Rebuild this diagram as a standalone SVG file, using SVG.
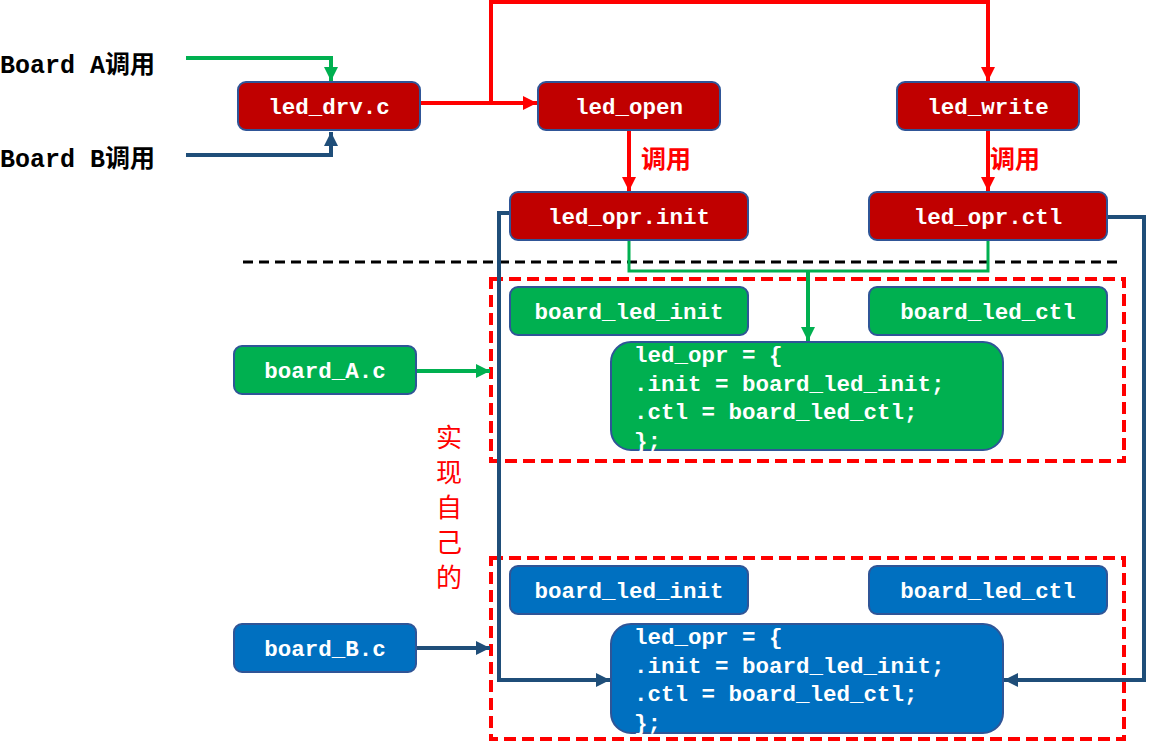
<svg xmlns="http://www.w3.org/2000/svg" width="1150" height="743" viewBox="0 0 1150 743">
<defs>
<style>
.box{stroke:#2F5597;stroke-width:2}
.red{fill:#C00000}
.grn{fill:#00B050}
.blu{fill:#0070C0}
.lbl{font-family:"Liberation Mono",monospace;font-weight:bold;font-size:22.5px;fill:#fff;text-anchor:middle}
.code{font-family:"Liberation Mono",monospace;font-weight:bold;font-size:22.5px;fill:#fff}
.side{font-family:"Liberation Mono","Noto Sans CJK SC",monospace;font-weight:bold;font-size:25px;fill:#000}
.cn{font-family:"Noto Sans CJK SC",sans-serif;font-weight:bold;font-size:25px;fill:#FF0000}
.cnv{font-family:"Noto Sans CJK SC",sans-serif;font-size:26px;fill:#FF0000;text-anchor:middle}
.lr{fill:none;stroke:#FF0000;stroke-width:4}
.lg{fill:none;stroke:#00B050;stroke-width:4}
.lb{fill:none;stroke:#1F4E79;stroke-width:4}
</style>
<marker id="ar" markerUnits="userSpaceOnUse" markerWidth="16" markerHeight="16" refX="14" refY="7" orient="auto"><path d="M0,0 L14,7 L0,14 z" fill="#FF0000"/></marker>
<marker id="ag" markerUnits="userSpaceOnUse" markerWidth="16" markerHeight="16" refX="14" refY="7" orient="auto"><path d="M0,0 L14,7 L0,14 z" fill="#00B050"/></marker>
<marker id="ab" markerUnits="userSpaceOnUse" markerWidth="16" markerHeight="16" refX="14" refY="7" orient="auto"><path d="M0,0 L14,7 L0,14 z" fill="#1F4E79"/></marker>
</defs>
<rect width="1150" height="743" fill="#fff"/>

<g id="dividers">
<line x1="243" y1="262" x2="1118" y2="262" stroke="#000" stroke-width="3" stroke-dasharray="10,6"/>
<rect id="regionA" x="491" y="279" width="633" height="182" fill="none" stroke="#FF0000" stroke-width="4" stroke-dasharray="12,6"/>
<rect id="regionB" x="491" y="558" width="633" height="181" fill="none" stroke="#FF0000" stroke-width="4" stroke-dasharray="12,6"/>
</g>

<g id="connectors">
<path class="lg" d="M186,58 H331 V81" marker-end="url(#ag)"/>
<path class="lb" d="M186,155 H331 V132" marker-end="url(#ab)"/>
<path class="lr" d="M421,103 H537" marker-end="url(#ar)"/>
<path class="lr" d="M491,103 V2 H988 V81" marker-end="url(#ar)"/>
<path class="lr" d="M629,131 V191" marker-end="url(#ar)"/>
<path class="lr" d="M988,131 V191" marker-end="url(#ar)"/>
<path fill="none" stroke="#00B050" stroke-width="3" d="M629,241 V271 H988 V241"/>
<path class="lg" d="M808,271 V341" marker-end="url(#ag)"/>
<path class="lg" d="M417,371 H490" marker-end="url(#ag)"/>
<path class="lb" d="M510,213 H499 V680 H610" marker-end="url(#ab)"/>
<path class="lb" d="M1108,217 H1144 V680 H1004" marker-end="url(#ab)"/>
<path class="lb" d="M417,648 H490" marker-end="url(#ab)"/>
</g>

<g id="labels">
<text class="side" x="0" y="73">Board A调用</text>
<text class="side" x="0" y="167">Board B调用</text>
<text class="cn" x="641" y="168">调用</text>
<text class="cn" x="990" y="168">调用</text>
<text class="cnv" x="449" y="447">实</text>
<text class="cnv" x="449" y="482">现</text>
<text class="cnv" x="449" y="517">自</text>
<text class="cnv" x="449" y="552">己</text>
<text class="cnv" x="449" y="587">的</text>
</g>

<g id="led_drv"><rect class="box red" x="238" y="82" width="182" height="48" rx="8"/><text class="lbl" x="329" y="114">led_drv.c</text></g>
<g id="led_open"><rect class="box red" x="538" y="82" width="182" height="48" rx="8"/><text class="lbl" x="629" y="114">led_open</text></g>
<g id="led_write"><rect class="box red" x="897" y="82" width="182" height="48" rx="8"/><text class="lbl" x="988" y="114">led_write</text></g>
<g id="led_opr_init"><rect class="box red" x="510" y="192" width="238" height="48" rx="8"/><text class="lbl" x="629" y="224">led_opr.init</text></g>
<g id="led_opr_ctl"><rect class="box red" x="869" y="192" width="238" height="48" rx="8"/><text class="lbl" x="988" y="224">led_opr.ctl</text></g>

<g id="a_board_led_init"><rect class="box grn" x="510" y="287" width="238" height="48" rx="8"/><text class="lbl" x="629" y="319">board_led_init</text></g>
<g id="a_board_led_ctl"><rect class="box grn" x="869" y="287" width="238" height="48" rx="8"/><text class="lbl" x="988" y="319">board_led_ctl</text></g>
<g id="a_led_opr"><rect class="box grn" x="611" y="342" width="392" height="108" rx="20"/>
<text class="code" x="634" y="362">led_opr = {</text>
<text class="code" x="634" y="391">.init = board_led_init;</text>
<text class="code" x="634" y="419">.ctl = board_led_ctl;</text>
<text class="code" x="634" y="448">};</text></g>
<g id="board_A"><rect class="box grn" x="234" y="346" width="182" height="48" rx="8"/><text class="lbl" x="325" y="378">board_A.c</text></g>

<g id="b_board_led_init"><rect class="box blu" x="510" y="566" width="238" height="48" rx="8"/><text class="lbl" x="629" y="598">board_led_init</text></g>
<g id="b_board_led_ctl"><rect class="box blu" x="869" y="566" width="238" height="48" rx="8"/><text class="lbl" x="988" y="598">board_led_ctl</text></g>
<g id="b_led_opr"><rect class="box blu" x="611" y="624" width="392" height="109" rx="20"/>
<text class="code" x="634" y="644">led_opr = {</text>
<text class="code" x="634" y="673">.init = board_led_init;</text>
<text class="code" x="634" y="701">.ctl = board_led_ctl;</text>
<text class="code" x="634" y="730">};</text></g>
<g id="board_B"><rect class="box blu" x="234" y="624" width="182" height="48" rx="8"/><text class="lbl" x="325" y="656">board_B.c</text></g>
</svg>
